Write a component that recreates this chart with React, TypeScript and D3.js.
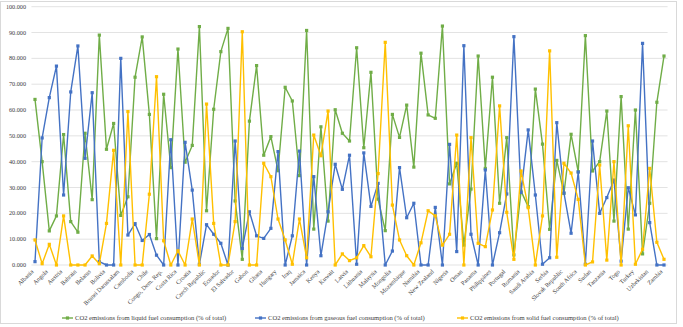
import React from "react";
import * as d3 from "d3";

const categories = [
  "Albania", "Algeria", "Angola", "Argentina", "Austria", "Azerbaijan", "Bahrain", "Bangladesh",
  "Belarus", "Belgium", "Bolivia", "Brazil", "Brunei Darussalam", "Bulgaria", "Cambodia", "Cameroon",
  "Chile", "China", "Congo, Dem. Rep.", "Congo, Rep.", "Costa Rica", "Cote d'Ivoire", "Croatia", "Cyprus",
  "Czech Republic", "Dominican Republic", "Ecuador", "Egypt, Arab Rep.", "El Salvador", "Ethiopia", "Gabon", "Georgia",
  "Ghana", "Guatemala", "Hungary", "Indonesia", "Iraq", "Italy", "Jamaica", "Jordan",
  "Kenya", "Korea, Rep.", "Kuwait", "Kyrgyz Republic", "Latvia", "Lebanon", "Lithuania", "Luxembourg",
  "Malaysia", "Mexico", "Mongolia", "Morocco", "Mozambique", "Myanmar", "Namibia", "Nepal",
  "New Zealand", "Nicaragua", "Nigeria", "Norway", "Oman", "Pakistan", "Panama", "Peru",
  "Philippines", "Poland", "Portugal", "Qatar", "Romania", "Russian Federation", "Saudi Arabia", "Senegal",
  "Serbia", "Singapore", "Slovak Republic", "Slovenia", "South Africa", "Sri Lanka", "Sudan", "Tajikistan",
  "Tanzania", "Thailand", "Togo", "Tunisia", "Turkey", "Turkmenistan", "Uzbekistan", "Vietnam", "Zambia",
];

const liquid = [
  64.1, 40.0, 13.2, 19.0, 50.5, 16.8, 12.7, 51.0, 25.3, 89.0, 44.8, 54.8, 19.2, 26.4, 72.7, 88.3,
  58.3, 10.2, 66.1, 37.7, 83.6, 39.8, 46.3, 92.3, 21.0, 60.3, 82.6, 91.6, 24.8, 2.2, 55.7, 77.2,
  42.5, 49.7, 36.5, 68.8, 63.5, 34.6, 90.8, 13.9, 53.5, 17.0, 60.1, 51.0, 48.0, 84.1, 45.4, 74.6,
  25.5, 13.3, 58.3, 49.4, 61.9, 37.9, 82.0, 58.1, 56.8, 92.5, 31.4, 39.4, 7.7, 29.4, 80.9, 37.4,
  72.7, 23.9, 49.3, 3.9, 28.6, 22.6, 68.1, 46.8, 13.8, 40.5, 27.7, 50.6, 36.1, 88.8, 36.4, 40.0,
  59.6, 17.0, 65.2, 13.9, 60.0, 4.3, 23.9, 63.0, 80.9,
];

const gaseous = [
  1.3, 49.2, 64.8, 77.0, 27.1, 67.0, 84.8, 41.3, 66.7, 1.3, 0, 0, 80.0, 11.6, 16.0, 9.5,
  11.8, 3.8, 0, 48.5, 0, 47.5, 29.0, 0.3, 15.6, 11.9, 8.4, 0, 48.0, 6.4, 20.6, 11.3,
  10.3, 14.2, 43.9, 0, 11.3, 44.1, 0, 34.2, 3.6, 20.6, 39.0, 29.3, 42.5, 0.3, 43.4, 22.7,
  31.6, 0, 5.4, 37.7, 18.3, 23.9, 0, 0, 22.3, 0, 46.7, 5.2, 84.9, 11.9, 0, 36.8,
  0, 12.5, 27.5, 88.4, 28.1, 52.3, 27.1, 0.3, 2.8, 55.1, 27.9, 12.3, 36.0, 0.3, 48.0, 20.0,
  26.1, 32.9, 1.5, 29.9, 19.4, 85.8, 16.4, 0, 0,
];

const solid = [
  9.7, 0.5, 8.0, 0, 19.0, 0, 0, 0, 3.5, 0.5, 16.1, 44.4, 0, 59.4, 0, 0,
  27.4, 72.9, 9.4, 0, 5.5, 0, 17.8, 0, 62.3, 16.1, 0, 0, 16.8, 90.3, 0, 0,
  39.4, 34.2, 17.8, 9.7, 0.3, 17.8, 2.8, 50.3, 42.3, 59.6, 0, 4.3, 1.7, 2.8, 7.5, 3.2,
  35.4, 86.2, 23.2, 9.7, 3.6, 0, 8.6, 21.0, 19.0, 7.7, 11.9, 50.3, 0, 49.3, 8.4, 7.1,
  21.3, 61.6, 20.4, 2.2, 36.4, 22.2, 0, 19.0, 82.9, 3.0, 39.4, 35.6, 25.4, 0, 1.2, 38.7,
  1.9, 40.0, 0, 53.9, 0.3, 6.1, 37.4, 8.8, 2.2,
];

const yTicks = [0, 10, 20, 30, 40, 50, 60, 70, 80, 90, 100];

const seriesNames = [
  "CO2 emissions from liquid fuel consumption (% of total)",
  "CO2 emissions from gaseous fuel consumption (% of total)",
  "CO2 emissions from solid fuel consumption (% of total)",
];
const seriesColors = ["#70AD47", "#4472C4", "#FFC000"];

const W = 683;
const H = 327;
const FONT = "'Liberation Serif', 'Times New Roman', serif";

export default function App() {
  const x = d3
    .scalePoint<string>()
    .domain(categories)
    .range([35, 664]);
  const step = x.step();
  const y = d3.scaleLinear().domain([0, 100]).range([265, 6.7]);

  const allSeries = [liquid, gaseous, solid];
  const line = d3
    .line<number>()
    .x((_, i) => x(categories[i]) as number)
    .y((d) => y(d));

  const gridX0 = 35 - step / 2;
  const gridX1 = 664 + step / 2;

  const legendX = [62, 255, 457];

  return (
    <svg
      width={W}
      height={H}
      style={{ position: "absolute", left: 0, top: 0, background: "#fff" }}
      fontFamily={FONT}
    >
      <rect x={0.5} y={1.5} width={676} height={322} fill="#fff" stroke="#d9d9d9" strokeWidth={1} />
      {yTicks.map((t) => (
        <g key={t}>
          <line x1={gridX0} x2={gridX1} y1={y(t)} y2={y(t)} stroke="#e3e3e3" strokeWidth={1} />
          <text x={26} y={y(t)} dy="0.33em" textAnchor="end" fontSize={6.2} fill="#404040">
            {d3.format(".3f")(t)}
          </text>
        </g>
      ))}
      {categories.map((c, i) =>
        i % 2 === 0 ? (
          <text
            key={c}
            transform={`translate(${(x(c) as number) - 1},${272}) rotate(-45)`}
            textAnchor="end"
            fontSize={6.2}
            fill="#404040"
          >
            {c}
          </text>
        ) : null
      )}
      {allSeries.map((s, si) => (
        <g key={si}>
          <path d={line(s) || ""} fill="none" stroke={seriesColors[si]} strokeWidth={1.4} strokeLinejoin="round" />
          {s.map((v, i) => (
            <rect
              key={i}
              x={(x(categories[i]) as number) - 1.6}
              y={y(v) - 1.6}
              width={3.2}
              height={3.2}
              fill={seriesColors[si]}
            />
          ))}
        </g>
      ))}
      {seriesNames.map((n, si) => (
        <g key={n}>
          <line x1={legendX[si]} x2={legendX[si] + 11} y1={318} y2={318} stroke={seriesColors[si]} strokeWidth={1.4} />
          <rect x={legendX[si] + 5.5 - 1.6} y={318 - 1.6} width={3.2} height={3.2} fill={seriesColors[si]} />
          <text x={legendX[si] + 13} y={318} dy="0.33em" fontSize={6.6} fill="#404040">
            {n}
          </text>
        </g>
      ))}
    </svg>
  );
}
